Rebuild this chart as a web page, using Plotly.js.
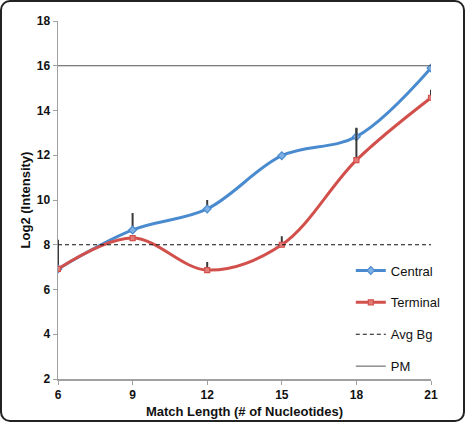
<!DOCTYPE html>
<html>
<head>
<meta charset="utf-8">
<script src="https://cdn.plot.ly/plotly-3.0.1.min.js"></script>
<style>
  html, body { margin: 0; padding: 0; background: #fff; }
  #wrap { position: relative; width: 465px; height: 422px; }
  #chart { width: 465px; height: 422px; }
  #frame { position: absolute; left: 0; top: 0; width: 461px; height: 418px;
           border: 2px solid #222; border-radius: 10px; pointer-events: none; }
</style>
</head>
<body>
<div id="wrap">
  <div id="chart"></div>
  <div id="frame"></div>
</div>
<script>
// Match length (nucleotides) on the x axis
const matchLength = [6, 9, 12, 15, 18, 21];
// Log2 intensity per probe position
const central = [6.92, 8.66, 9.6, 11.98, 12.83, 15.9];
const terminal = [6.92, 8.3, 6.87, 8.0, 11.78, 14.57];
// Upper error (one-sided)
const centralErr = [1.3, 0.76, 0.4, 0.1, 0.4, 0];
const terminalErr = [0, 0, 0.36, 0.38, 1.43, 0.36];
const zeros = [0, 0, 0, 0, 0, 0];
// Reference levels
const avgBgLevel = 8;
const pmLevel = 16;
const xTicks = [6, 9, 12, 15, 18, 21];
const yTicks = [2, 4, 6, 8, 10, 12, 14, 16, 18];

const errStyle = { type: 'data', symmetric: false, color: '#3a3a3a', thickness: 2, width: 0 };
const xEnds = [matchLength[0], matchLength[matchLength.length - 1]];

const traces = [
  {
    x: matchLength, y: central, name: 'Central', legendgroup: 'a',
    mode: 'lines+markers', type: 'scatter',
    line: { color: '#4a8bcf', width: 3, shape: 'spline', smoothing: 1 },
    marker: { symbol: 'diamond', size: 6, color: '#7fb0e3', line: { color: '#4a8bcf', width: 1.2 } },
    error_y: Object.assign({ array: centralErr, arrayminus: zeros }, errStyle)
  },
  {
    x: matchLength, y: terminal, name: 'Terminal', legendgroup: 'b',
    mode: 'lines+markers', type: 'scatter',
    line: { color: '#d2504c', width: 3, shape: 'spline', smoothing: 1 },
    marker: { symbol: 'square', size: 5, color: '#e47d79', line: { color: '#d2504c', width: 1.2 } },
    error_y: Object.assign({ array: terminalErr, arrayminus: zeros }, errStyle)
  },
  {
    x: xEnds, y: [avgBgLevel, avgBgLevel], name: 'Avg Bg', legendgroup: 'c',
    mode: 'lines', type: 'scatter',
    line: { color: '#111', width: 1.2, dash: '4px,3px' }
  },
  {
    x: xEnds, y: [pmLevel, pmLevel], name: 'PM', legendgroup: 'd',
    mode: 'lines', type: 'scatter',
    line: { color: '#555', width: 1 }
  }
];

const axisFont = { family: 'Liberation Sans, Arial, sans-serif', size: 12, color: '#111', weight: 'bold' };

const layout = {
  width: 465, height: 422,
  margin: { l: 58, r: 34, t: 21, b: 43 },
  paper_bgcolor: '#fff', plot_bgcolor: '#fff',
  font: { family: 'Liberation Sans, Arial, sans-serif', color: '#111' },
  showlegend: true,
  legend: {
    x: 0.785, y: 0.345, xanchor: 'left', yanchor: 'top',
    bgcolor: 'rgba(0,0,0,0)', tracegroupgap: 12,
    font: { size: 13, color: '#111' }
  },
  xaxis: {
    range: [6, 21], tickvals: xTicks, ticktext: xTicks.map(String),
    showgrid: false, zeroline: false, showline: true, linecolor: '#a0a0a0', linewidth: 1.5,
    ticks: 'outside', ticklen: 4, tickcolor: '#a0a0a0', tickfont: axisFont,
    title: { text: 'Match Length (# of Nucleotides)', font: { family: 'Liberation Sans, Arial, sans-serif', size: 13, color: '#111', weight: 'bold' }, standoff: 6 }
  },
  yaxis: {
    range: [2, 18], tickvals: yTicks, ticktext: yTicks.map(String),
    showgrid: false, zeroline: false, showline: true, linecolor: '#a0a0a0', linewidth: 1.5,
    ticks: 'outside', ticklen: 4, tickcolor: '#a0a0a0', tickfont: axisFont,
    title: { text: 'Log2 (Intensity)', font: { family: 'Liberation Sans, Arial, sans-serif', size: 13, color: '#111', weight: 'bold' }, standoff: 3 }
  }
};

Plotly.newPlot('chart', traces, layout, { displayModeBar: false, staticPlot: true });
</script>
</body>
</html>
